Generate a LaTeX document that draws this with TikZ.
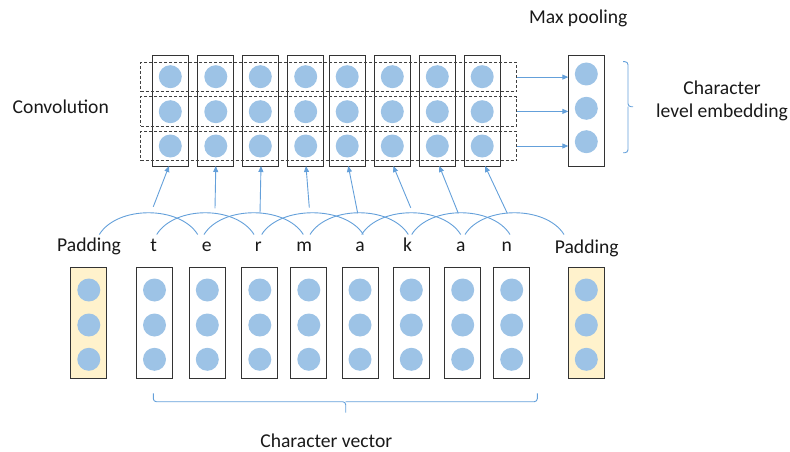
\documentclass[tikz,border=0pt]{standalone}
\usepackage{fontspec}
\setmainfont{Carlito}
\usetikzlibrary{arrows.meta}
\definecolor{dotblue}{RGB}{157,195,230}
\definecolor{lineblue}{RGB}{100,160,218}
\definecolor{padfill}{RGB}{255,242,204}
\definecolor{txt}{RGB}{25,25,25}
\begin{document}
\begin{tikzpicture}[x=1pt,y=-1pt,
  vecbox/.style={draw=black!80, line width=0.9pt, minimum width=36pt, minimum height=111pt, inner sep=0pt, outer sep=0pt},
  padbox/.style={vecbox, fill=padfill},
  dot/.style={circle, fill=dotblue, draw=none, minimum size=23pt, inner sep=0pt},
  convrow/.style={draw=black!75, dash pattern=on 3pt off 2pt, line width=0.8pt, minimum width=376pt, minimum height=29.5pt, inner sep=0pt, outer sep=0pt},
  lbl/.style={font=\fontsize{19.6}{23.5}\selectfont, text=txt, inner sep=0pt, anchor=base},
  link/.style={draw=lineblue, line width=0.9pt},
  arr/.style={link, -{Triangle[length=6pt,width=5pt]}},
]
\useasboundingbox (0,0) rectangle (790,452);

% ---- convolution feature maps ----
\foreach \x [count=\i] in {170.3,215.8,260.3,305.7,347.2,392.3,437.3,482.2} {
  \node[vecbox] (top\i) at (\x,110.5) {};
}
\foreach \y [count=\j] in {77.1,111.4,146} {
  \node[convrow] (row\j) at (328.7,\y) {};
}
\foreach \x [count=\i] in {170.3,215.8,260.3,305.7,347.2,392.3,437.3,482.2} {
  \foreach \y [count=\j] in {76.7,111.7,146} {
    \node[dot] (top\i-\j) at (\x,\y) {};
  }
}

% ---- max pooling ----
\node[vecbox] (pool) at (586.3,110.5) {};
\foreach \y [count=\j] in {74,108.3,141.7} {
  \node[dot] (pool-\j) at (586.3,\y) {};
}
\foreach \j in {1,2,3} {
  \draw[arr] (row\j.east) -- (pool.west |- row\j.east);
}

% ---- character vectors ----
\node[padbox] (bpl) at (88.8,322.8) {};
\foreach \y [count=\j] in {290,325,359.3} \node[dot] (bpl-\j) at (88.8,\y) {};
\foreach \x [count=\i] in {154.5,207.3,259.8,308.8,360,411.3,462.7,511.7} {
  \node[vecbox] (bot\i) at (\x,322.8) {};
  \foreach \y [count=\j] in {290,325,359.3} {
    \node[dot] (bot\i-\j) at (\x,\y) {};
  }
}
\node[padbox] (bpr) at (586.3,322.8) {};
\foreach \y [count=\j] in {290,325,359.3} \node[dot] (bpr-\j) at (586.3,\y) {};

% ---- labels ----
\node[lbl] (padl) at (89,251.7) {Padding};
\node[lbl] (padr) at (586.7,253.3) {Padding};
\foreach \x/\c [count=\i] in {153.7/t,206.7/e,258.3/r,304.3/m,360/a,407.7/k,460.7/a,506.7/n} {
  \node[lbl] (ch\i) at (\x,251.7) {\c};
}
\node[lbl] (conv) at (60.8,113.3) {Convolution};
\node[lbl] (maxp) at (578.3,23.3) {Max pooling};
\node[lbl, align=center] (cle) at (722,117.3) {Character\\[-0.5pt]level embedding};
\node[lbl] (cvec) at (326.3,447.7) {Character vector};

% ---- window arcs ----
\foreach \s/\t [count=\i] in {99.3/197.7,156.7/254,204/303.3,261.7/363.3,310/408.3,361.7/460.7,411.7/510,465/564} {
  \coordinate (as\i) at (\s,234.5);
  \coordinate (ae\i) at (\t,234.5);
  \draw[link] (as\i) .. controls +(18,-29) and +(-18,-29) .. (ae\i);
}

% ---- arrows from windows to convolution outputs ----
\foreach \px/\py/\dx [count=\i] in {153.3/206.7/-1.3,215/208.3/0,260/213.3/0.7,309.3/207.7/0.3,357.7/213.3/1.1,410.7/207.7/1,458.3/213.3/2,507.3/213.3/2.8} {
  \coordinate (p\i) at (\px,\py);
  \draw[arr] (p\i) -- ([xshift=\dx pt]top\i.south);
}

% ---- braces ----
\draw[link, rounded corners=3pt] (153.3,393.3) |- (345.7,401.7) -- (345.7,412.7);
\draw[link, rounded corners=3pt] (537.3,393.3) |- (345.7,401.7);
\draw[link, rounded corners=3pt] (623,61.7) -| (628,106.7) -- (633,106.7);
\draw[link, rounded corners=3pt] (623,152.7) -| (628,106.7);
\end{tikzpicture}
\end{document}
